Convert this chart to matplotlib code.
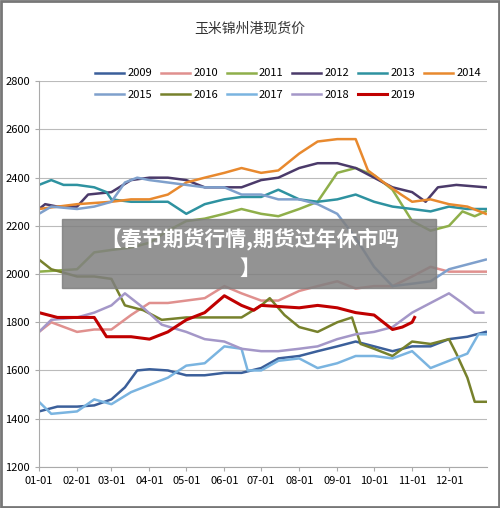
import matplotlib.pyplot as plt
from matplotlib.patches import Rectangle

plt.rcParams['font.family'] = ['Noto Sans CJK SC', 'DejaVu Sans']

years = ['2009', '2010', '2011', '2012', '2013', '2014',
         '2015', '2016', '2017', '2018', '2019']
colors = ['#3b5f9a', '#e0908e', '#8faf4a', '#4b3a6a', '#2e92a0', '#e8892e',
          '#7fa0cc', '#77812c', '#7ab4e0', '#a497c8', '#c00000']

s2009 = {0: 1430, 15: 1450, 31: 1450, 45: 1455, 59: 1480, 70: 1530, 80: 1600, 90: 1605, 105: 1600, 120: 1580,
         135: 1580, 151: 1590, 165: 1590, 181: 1610, 195: 1650, 212: 1660, 227: 1680, 243: 1700, 258: 1720,
         273: 1700, 288: 1680, 304: 1700, 319: 1700, 334: 1730, 349: 1740, 364: 1760}
s2010 = {0: 1760, 10: 1800, 31: 1760, 45: 1770, 59: 1770, 75: 1830, 90: 1880, 105: 1880, 120: 1890, 135: 1900,
         151: 1950, 165: 1920, 181: 1890, 195: 1890, 212: 1930, 227: 1950, 243: 1970, 258: 1940, 273: 1950,
         288: 1950, 304: 1990, 319: 2030, 334: 2010, 349: 2010, 364: 2010}
s2011 = {0: 2010, 31: 2020, 45: 2090, 59: 2100, 75: 2110, 90: 2130, 105: 2180, 120: 2220, 135: 2230, 151: 2250,
         165: 2270, 181: 2250, 195: 2240, 212: 2270, 227: 2300, 243: 2420, 258: 2440, 273: 2410, 288: 2350,
         304: 2220, 319: 2180, 334: 2200, 345: 2260, 355: 2240, 364: 2260}
s2012 = {0: 2270, 5: 2290, 15: 2280, 31: 2280, 40: 2330, 59: 2340, 75: 2390, 90: 2400, 105: 2400, 120: 2390,
         135: 2360, 151: 2360, 165: 2360, 181: 2390, 195: 2400, 212: 2440, 227: 2460, 243: 2460, 258: 2440,
         273: 2400, 288: 2360, 304: 2340, 315: 2300, 325: 2360, 340: 2370, 364: 2360}
s2013 = {0: 2370, 10: 2390, 20: 2370, 31: 2370, 45: 2360, 55: 2340, 59: 2310, 75: 2300, 90: 2300, 105: 2300,
         120: 2250, 135: 2290, 151: 2310, 165: 2320, 181: 2320, 195: 2350, 212: 2310, 227: 2300, 243: 2310,
         258: 2330, 273: 2300, 288: 2280, 304: 2270, 319: 2260, 334: 2280, 349: 2270, 364: 2270}
s2014 = {0: 2270, 31: 2290, 59: 2300, 75: 2310, 90: 2310, 105: 2330, 120: 2380, 135: 2400, 151: 2420, 165: 2440,
         181: 2420, 195: 2430, 212: 2500, 227: 2550, 243: 2560, 258: 2560, 268: 2430, 281: 2380, 295: 2330,
         304: 2300, 319: 2310, 334: 2290, 349: 2280, 364: 2250}
s2015 = {0: 2250, 10: 2280, 31: 2270, 45: 2280, 59: 2300, 70: 2380, 80: 2400, 90: 2390, 105: 2380, 120: 2370,
         135: 2360, 151: 2360, 165: 2330, 181: 2330, 195: 2310, 212: 2310, 227: 2290, 243: 2250, 258: 2150,
         273: 2030, 288: 1950, 304: 1960, 319: 1970, 334: 2020, 349: 2040, 364: 2060}
s2016 = {0: 2060, 10: 2020, 31: 1990, 45: 1990, 59: 1980, 70: 1870, 85: 1850, 100: 1810, 120: 1820, 135: 1820,
         151: 1820, 165: 1820, 181: 1870, 188: 1900, 200: 1830, 212: 1780, 227: 1760, 243: 1800, 255: 1820,
         262: 1710, 273: 1690, 288: 1660, 304: 1720, 319: 1710, 334: 1730, 340: 1670, 349: 1570, 355: 1470,
         364: 1470}
s2017 = {0: 1470, 10: 1420, 31: 1430, 45: 1480, 59: 1460, 75: 1510, 90: 1540, 105: 1570, 120: 1620, 135: 1630,
         151: 1700, 165: 1690, 170: 1600, 181: 1600, 195: 1640, 212: 1650, 227: 1610, 243: 1630, 258: 1660,
         273: 1660, 288: 1650, 304: 1680, 319: 1610, 334: 1640, 349: 1670, 358: 1750, 364: 1750}
s2018 = {0: 1760, 10: 1810, 31: 1820, 45: 1840, 59: 1870, 70: 1920, 85: 1860, 100: 1790, 120: 1760, 135: 1730,
         151: 1720, 165: 1690, 181: 1680, 195: 1680, 212: 1690, 227: 1700, 243: 1730, 258: 1750, 273: 1760,
         288: 1780, 304: 1840, 319: 1880, 334: 1920, 345: 1880, 355: 1840, 362: 1840}
s2019 = {0: 1840, 15: 1820, 31: 1820, 45: 1820, 55: 1740, 75: 1740, 90: 1730, 105: 1760, 120: 1810, 135: 1840,
         151: 1910, 165: 1870, 175: 1850, 181: 1870, 212: 1860, 227: 1870, 243: 1860, 258: 1840, 273: 1830,
         288: 1770, 296: 1780, 304: 1800, 306: 1820}
series = [s2009, s2010, s2011, s2012, s2013, s2014, s2015, s2016, s2017, s2018, s2019]

tick_days = [0, 31, 59, 90, 120, 151, 181, 212, 243, 273, 304, 334]
tick_labels = ['01-01', '02-01', '03-01', '04-01', '05-01', '06-01',
               '07-01', '08-01', '09-01', '10-01', '11-01', '12-01']

fig = plt.figure(figsize=(5.0, 5.08), dpi=100)
ax = fig.add_axes([0.078, 0.081, 0.896, 0.759])
for yr, s, c in zip(years, series, colors):
    ax.plot(list(s.keys()), list(s.values()), color=c, lw=2.2 if yr == '2019' else 1.8, label=yr)

ax.set_xlim(0, 365)
ax.set_ylim(1200, 2800)
ax.set_yticks(range(1200, 2801, 200))
ax.set_xticks(tick_days)
ax.set_xticklabels(tick_labels)
ax.tick_params(labelsize=8, length=3, color='#aaaaaa')
ax.grid(axis='y', color='#bbbbbb', lw=0.8)
for sp in ['top', 'right']:
    ax.spines[sp].set_visible(False)
for sp in ['left', 'bottom']:
    ax.spines[sp].set_color('#aaaaaa')

h, l = ax.get_legend_handles_labels()
order = [0, 6, 1, 7, 2, 8, 3, 9, 4, 10, 5]
fig.legend([h[i] for i in order], [l[i] for i in order], ncol=6, loc='upper left',
           bbox_to_anchor=(0.17, 0.885), frameon=False, fontsize=8,
           handlelength=2.6, columnspacing=0.8, handletextpad=0.3, labelspacing=1.0)

fig.text(0.5, 0.935, '玉米锦州港现货价', ha='center', fontsize=10, color='#333333')

fig.patches.append(Rectangle((0.124, 0.433), 0.748, 0.136, transform=fig.transFigure,
                             color='#808080', alpha=0.85, zorder=10))
fig.text(0.5, 0.531, '【春节期货行情,期货过年休市吗', ha='center', va='center', color='white',
         fontsize=15, fontweight='bold', zorder=11)
fig.text(0.5, 0.472, '】', ha='center', va='center', color='white',
         fontsize=15, fontweight='bold', zorder=11)
fig.patches.append(Rectangle((0.002, 0.002), 0.996, 0.996, transform=fig.transFigure,
                             fill=False, edgecolor='#777777', lw=2))

fig.savefig('out.png', dpi=100)
